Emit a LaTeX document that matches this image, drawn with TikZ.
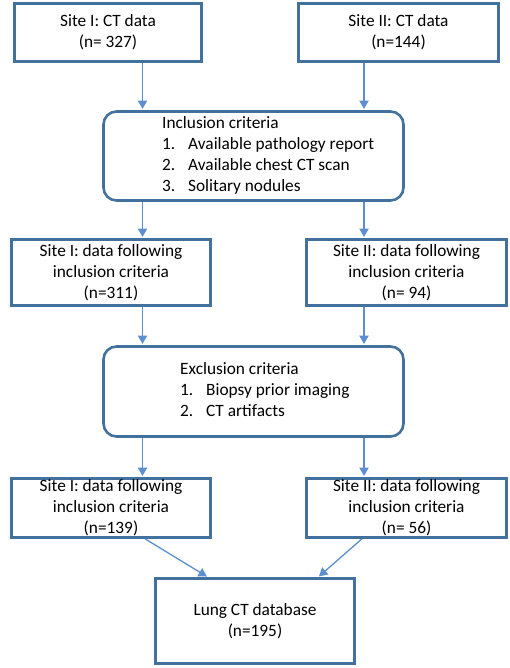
\documentclass[tikz,border=0pt]{standalone}
\usepackage{fontspec}
\setmainfont{Carlito}
\usetikzlibrary{arrows}

\definecolor{boxline}{HTML}{41719C}
\definecolor{arrline}{HTML}{5B8FD0}

\tikzset{
  sitebox/.style={draw=boxline, line width=2.6pt, fill=white, align=center,
    inner sep=0pt, font=\fontsize{17.3}{21}\selectfont},
  critbox/.style={sitebox, rounded corners=13pt},
  crittext/.style={anchor=west, align=left, inner sep=0pt,
    font=\fontsize{17.3}{21}\selectfont},
  arr/.style={arrline, line width=1.3pt, ->, >=triangle 60, shorten >=1.3pt}
}
\newcommand{\itm}[1]{\makebox[26pt][l]{#1}}

\begin{document}
\begin{tikzpicture}[x=1pt, y=-1pt]  % pixel units, y downwards

            \useasboundingbox (0,0) rectangle (510,668);

            % Boxes
            \node[sitebox, minimum width=187pt, minimum height=58pt] (s1) at (108,32.5) {Site I: CT data\\(n= 327)};
            \node[sitebox, minimum width=200pt, minimum height=58pt] (s2) at (398.5,32.5) {Site II: CT data\\(n=144)};
            \node[critbox, minimum width=300pt, minimum height=89pt] (inc) at (253.5,156) {};
            \node[sitebox, minimum width=199pt, minimum height=66pt] (a1) at (111,272.5) {Site I: data following\\inclusion criteria\\(n=311)};
            \node[sitebox, minimum width=200pt, minimum height=66pt] (a2) at (406.5,272.5) {Site II: data following\\inclusion criteria\\(n= 94)};
            \node[critbox, minimum width=300pt, minimum height=90pt] (exc) at (253.5,391.5) {};
            \node[sitebox, minimum width=199pt, minimum height=59pt] (b1) at (111,508) {Site I: data following\\inclusion criteria\\(n=139)};
            \node[sitebox, minimum width=200pt, minimum height=59pt] (b2) at (406.5,508) {Site II: data following\\inclusion criteria\\(n= 56)};
            \node[sitebox, minimum width=199pt, minimum height=85pt] (db) at (255,621) {Lung CT database\\(n=195)};

            % Text
            \node[crittext] (inctext) at (162,155.5) {Inclusion criteria\\\itm{1.}Available pathology report\\\itm{2.}Available chest CT scan\\\itm{3.}Solitary nodules};
            \node[crittext] (exctext) at (180,390) {Exclusion criteria\\\itm{1.}Biopsy prior imaging\\\itm{2.}CT artifacts};

            % Arrows
            \coordinate (cl) at (142.5,0);
            \coordinate (cr) at (364,0);
            \draw[arr] (s1.south -| cl) -- (inc.north -| cl);
            \draw[arr] (s2.south -| cr) -- (inc.north -| cr);
            \draw[arr] (inc.south -| cl) -- (a1.north -| cl);
            \draw[arr] (inc.south -| cr) -- (a2.north -| cr);
            \draw[arr] (a1.south -| cl) -- (exc.north -| cl);
            \draw[arr] (a2.south -| cr) -- (exc.north -| cr);
            \draw[arr] (exc.south -| cl) -- (b1.north -| cl);
            \draw[arr] (exc.south -| cr) -- (b2.north -| cr);
            \draw[arr] ([xshift=34pt]b1.south) -- ([xshift=-47pt]db.north);
            \draw[arr] ([xshift=-44.5pt]b2.south) -- ([xshift=63pt]db.north);

        \end{tikzpicture}
\end{document}
